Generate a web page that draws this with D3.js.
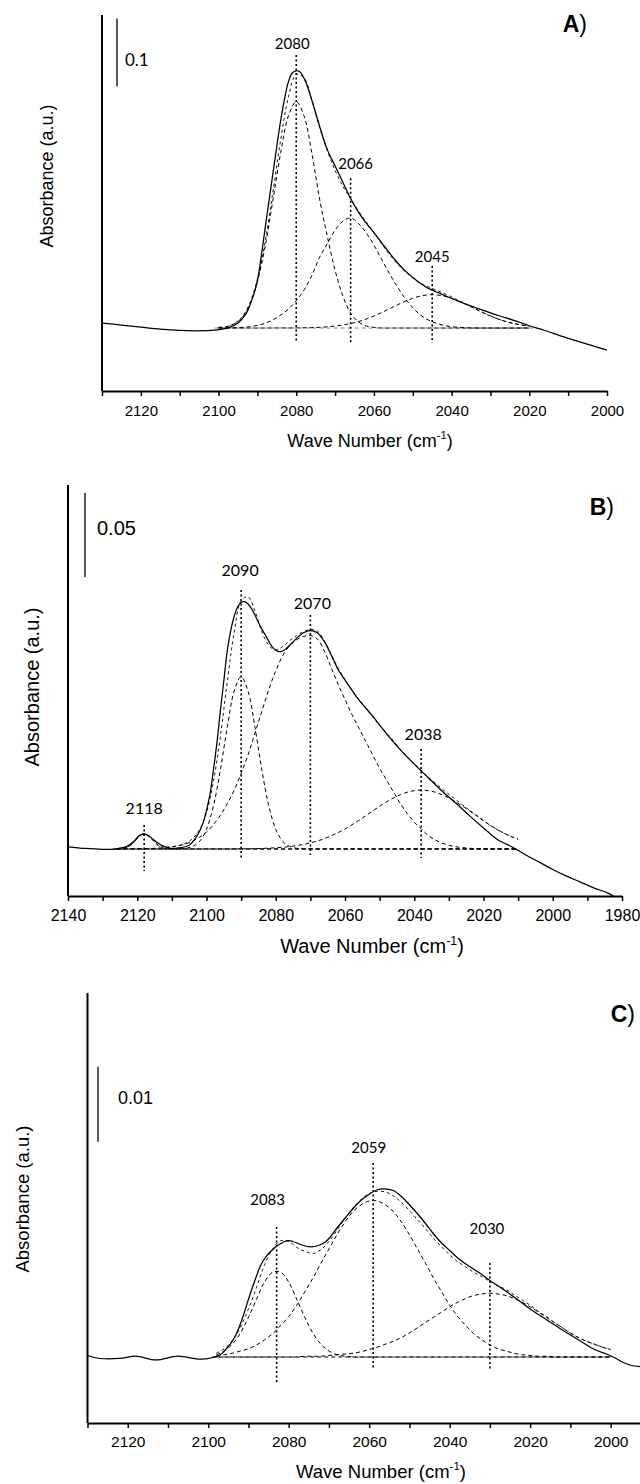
<!DOCTYPE html>
<html><head><meta charset="utf-8">
<script src="https://cdn.jsdelivr.net/npm/d3@7"></script>
<style>body{margin:0;background:#fff}svg{display:block}</style>
</head><body>
<svg id="c" width="640" height="1484"></svg>
<script>
// ================= DATA =================
// ---- Panel A ----
const ticksA = [2130,2120,2110,2100,2090,2080,2070,2060,2050,2040,2030,2020,2010,2000];
const tickLabelsA = [2120,2100,2080,2060,2040,2020,2000];
const spectrumA = [[2130,0.100],[2125,0.097],[2120,0.094],[2115,0.091],[2110,0.089],[2106,0.0885],[2102,0.089],[2099,0.091],[2097,0.094],[2095,0.100],[2093,0.113],[2092,0.125],[2091,0.141],[2090,0.162],[2089,0.198],[2088,0.240],[2087,0.280],[2086,0.320],[2085,0.360],[2084,0.398],[2083,0.430],[2082,0.455],[2081,0.468],[2080,0.471],[2079,0.469],[2078,0.460],[2077,0.446],[2076,0.428],[2074,0.390],[2072,0.355],[2070,0.331],[2068,0.307],[2066,0.283],[2064,0.263],[2062,0.247],[2060,0.233],[2058,0.218],[2056,0.203],[2054,0.189],[2052,0.177],[2050,0.167],[2048,0.158],[2046,0.151],[2044,0.146],[2042,0.141],[2040,0.136],[2036,0.127],[2032,0.119],[2028,0.111],[2024,0.104],[2020,0.096],[2016,0.089],[2012,0.081],[2008,0.074],[2004,0.067],[2000,0.060]];
const baselineA = 0.0926, baseRangeA = [2101, 2019];
const gridA = d3.range(2100, 2019, -2);   // 2100 ... 2020
const compA2080 = [0.001,0.002,0.006,0.015,0.034,0.068,0.120,0.188,0.258,0.312,0.333,0.312,0.258,0.190,0.135,0.085,0.047,0.022,0.009,0.003,0.001,0,0,0,0,0,0,0,0,0,0,0,0,0,0,0,0,0,0,0,0];
const compA2066 = [0,0,0.0004,0.001,0.002,0.004,0.007,0.012,0.019,0.028,0.040,0.056,0.077,0.104,0.124,0.144,0.157,0.162,0.154,0.140,0.122,0.101,0.080,0.061,0.044,0.030,0.019,0.012,0.007,0.004,0.002,0.001,0.0004,0,0,0,0,0,0,0,0];
const compA2045 = [0,0,0,0,0,0,0,0.0001,0.0001,0.0001,0.0002,0.0004,0.0006,0.0011,0.0018,0.0029,0.0045,0.0066,0.0095,0.0132,0.0177,0.0228,0.0283,0.034,0.0392,0.0438,0.047,0.0488,0.0488,0.047,0.0438,0.0392,0.034,0.0283,0.0228,0.0177,0.0132,0.0095,0.0066,0.0045,0.0029];
const peaksA = [2080, 2066, 2045];
const peakTopA = [0.494, 0.313, 0.184];
const peakBottomA = [0.071, 0.071, 0.071];

// ---- Panel B ----
const ticksB = [2140,2130,2120,2110,2100,2090,2080,2070,2060,2050,2040,2030,2020,2010,2000,1990,1980];
const tickLabelsB = [2140,2120,2100,2080,2060,2040,2020,2000,1980];
const spectrumB = [[2140,0.0293],[2135,0.0283],[2130,0.0278],[2126,0.0281],[2123,0.0295],[2121,0.0325],[2119.5,0.0358],[2118,0.037],[2116.5,0.0355],[2115,0.033],[2113,0.0302],[2111,0.0287],[2109,0.0284],[2107,0.0289],[2105,0.0302],[2103.5,0.0335],[2102,0.0385],[2101,0.0435],[2100,0.051],[2099,0.0605],[2098,0.075],[2097,0.091],[2096,0.110],[2095,0.128],[2094,0.146],[2093,0.158],[2092,0.1665],[2091,0.172],[2090,0.1748],[2089,0.1752],[2088,0.1738],[2087,0.171],[2086,0.1672],[2085,0.1628],[2084,0.1588],[2083,0.1553],[2082,0.1515],[2081,0.1483],[2080,0.1463],[2079,0.1455],[2078,0.1458],[2077,0.1472],[2076,0.1492],[2075,0.1512],[2074,0.1533],[2072,0.1567],[2070,0.158],[2068,0.1567],[2066,0.1515],[2064,0.1435],[2062,0.1348],[2060,0.1285],[2058,0.1225],[2056,0.1167],[2052,0.107],[2048,0.0965],[2044,0.087],[2040,0.0785],[2036,0.0705],[2032,0.0625],[2028,0.0553],[2024,0.0477],[2020,0.0405],[2016,0.0336],[2012,0.0295],[2008,0.0247],[2004,0.0203],[2000,0.0158],[1996,0.0118],[1992,0.0083],[1988,0.0047],[1984,0.0017],[1982.5,0]];
const baselineB = 0.028, baseRangeB = [2127, 2010];
const gridB = d3.range(2126, 2009, -2);   // 2126 ... 2010
const compB2118 = [0,0.0003,0.002,0.0062,0.009,0.0062,0.002,0.0003,0,0,0,0,0,0,0,0,0,0,0,0,0,0,0,0,0,0,0,0,0,0,0,0,0,0,0,0,0,0,0,0,0,0,0,0,0,0,0,0,0,0,0,0,0,0,0,0,0,0,0];
const compB2090 = [0,0,0,0,0,0,0,0,0,0.0001,0.0004,0.0015,0.0045,0.0117,0.0256,0.0469,0.0724,0.094,0.1025,0.094,0.0724,0.0469,0.0256,0.0117,0.0045,0.0015,0.0004,0.0001,0,0,0,0,0,0,0,0,0,0,0,0,0,0,0,0,0,0,0,0,0,0,0,0,0,0,0,0,0,0,0];
const compB2070 = [0,0,0.0001,0.0001,0.0002,0.0003,0.0005,0.0008,0.0013,0.002,0.003,0.0047,0.007,0.010,0.0145,0.020,0.027,0.035,0.045,0.056,0.069,0.082,0.095,0.106,0.115,0.121,0.1245,0.1265,0.127,0.125,0.118,0.108,0.098,0.089,0.080,0.072,0.064,0.056,0.048,0.041,0.034,0.027,0.021,0.016,0.012,0.008,0.0055,0.0035,0.0022,0.0013,0.0008,0.0004,0.0002,0.0001,0,0,0,0,0];
const compB2038 = [0,0,0,0,0,0,0,0,0,0,0,0,0,0,0,0,0,0,0.0001,0.0001,0.0002,0.0003,0.0005,0.0007,0.001,0.0014,0.002,0.0027,0.0036,0.0047,0.0061,0.0078,0.0097,0.0119,0.0144,0.017,0.0198,0.0226,0.0254,0.028,0.0304,0.0323,0.0338,0.0347,0.035,0.0347,0.0338,0.0323,0.0304,0.028,0.0254,0.0226,0.0198,0.0168,0.014,0.0115,0.0093,0.0074,0.0058];
const peaksB = [2118, 2090, 2070, 2038];
const peakTopB = [0.0423, 0.1821, 0.1673, 0.0875];
const peakBottomB = [0.0149, 0.0226, 0.0244, 0.0226];

// ---- Panel C ----
const ticksC = [2130,2120,2110,2100,2090,2080,2070,2060,2050,2040,2030,2020,2010,2000];
const tickLabelsC = [2120,2100,2080,2060,2040,2020,2000];
const spectrumC = [[2130,0.0090],[2127,0.0086],[2122,0.0086],[2118,0.0089],[2113,0.0084],[2107.5,0.0089],[2102,0.0085],[2099,0.0087],[2097,0.0091],[2095.5,0.0099],[2094,0.0109],[2093,0.0119],[2092,0.0132],[2091,0.0148],[2090,0.0165],[2089,0.0181],[2088,0.0196],[2087,0.0210],[2086,0.0219],[2085,0.0226],[2084,0.0231],[2083,0.0236],[2082,0.0239],[2081,0.0242],[2080,0.0243],[2079,0.0242],[2078,0.0240],[2077,0.0238],[2076,0.0236],[2075,0.0235],[2074,0.0235],[2073,0.0236],[2072,0.0238],[2071,0.0241],[2070,0.0246],[2068,0.0260],[2066,0.0273],[2064,0.0286],[2062,0.0297],[2060,0.0305],[2058,0.0311],[2057,0.0312],[2056,0.0312],[2054,0.0310],[2052,0.0302],[2050,0.0291],[2048,0.0279],[2046,0.0266],[2044,0.0252],[2042,0.0240],[2040,0.0230],[2038,0.0220],[2036,0.0212],[2034,0.0205],[2032,0.0198],[2030,0.0190],[2028,0.0183],[2024,0.0168],[2020,0.0152],[2016,0.0138],[2012,0.0124],[2008,0.0111],[2004,0.0098],[2001,0.0092],[1999,0.0087],[1997,0.0081],[1995,0.0077],[1992.7,0.0075]];
const baselineC = 0.0088, baseRangeC = [2099, 2000];
const gridC = d3.range(2098, 1999, -2);   // 2098 ... 2000
const compC2083 = [0.0003,0.0008,0.0017,0.0032,0.0053,0.0077,0.01,0.0113,0.0113,0.01,0.0077,0.0053,0.0032,0.0017,0.0008,0.0003,0.0001,0,0,0,0,0,0,0,0,0,0,0,0,0,0,0,0,0,0,0,0,0,0,0,0,0,0,0,0,0,0,0,0,0];
const compC2059 = [0.0002,0.0003,0.0005,0.0008,0.0011,0.0016,0.0023,0.0031,0.0042,0.0054,0.0069,0.0087,0.0105,0.0125,0.0144,0.0163,0.018,0.0194,0.0203,0.0208,0.0208,0.0203,0.0194,0.018,0.0163,0.0144,0.0125,0.0105,0.0087,0.0069,0.0054,0.0042,0.0031,0.0023,0.0016,0.0011,0.0008,0.0005,0.0003,0.0002,0.0001,0.0001,0,0,0,0,0,0,0,0];
const compC2030 = [0,0,0,0,0,0,0,0,0,0,0,0.0001,0.0001,0.0001,0.0002,0.0003,0.0004,0.0005,0.0007,0.001,0.0013,0.0017,0.0021,0.0026,0.0032,0.0039,0.0046,0.0053,0.006,0.0067,0.0073,0.0078,0.0082,0.0084,0.0085,0.0084,0.0082,0.0078,0.0073,0.0067,0.006,0.0053,0.0046,0.0039,0.0032,0.0026,0.0021,0.0017,0.0013,0.001];
const peaksC = [2083, 2059, 2030];
const peakTopC = [0.02613, 0.03467, 0.02133];
const peakBottomC = [0.00533, 0.00707, 0.00707];

// ================= LAYOUT =================
const svg = d3.select("#c");
const ARIAL = "'Liberation Sans', Arial, sans-serif";
const CAL = "Lato, 'Open Sans', sans-serif";

function drawPanel(p) {
  [p.c1, p.c2, p.c3, p.c4].filter(Boolean).forEach(c => {
    if (c.length !== p.grid.length) throw new Error("length mismatch " + p.tag + " " + c.length + " vs " + p.grid.length);
  });
  const g = svg.append("g");
  const x = d3.scaleLinear().domain(p.xDomain).range([p.left, p.right]);
  const y = d3.scaleLinear().domain([0, p.yMax]).range([p.bottom, p.top]);

  // y axis (line only)
  g.append("line").attr("x1", p.left).attr("x2", p.left).attr("y1", p.top).attr("y2", p.bottom)
    .attr("stroke", "#000").attr("stroke-width", 2);

  // x axis
  const ax = d3.axisBottom(x).tickValues(p.ticks)
    .tickFormat(d => p.tickLabels.includes(d) ? d : "").tickSize(5).tickSizeOuter(0);
  const axg = g.append("g").attr("transform", `translate(0,${p.bottom})`).call(ax);
  axg.select(".domain").attr("stroke-width", 2);
  axg.selectAll(".tick line").attr("stroke-width", 1.5);
  axg.selectAll(".tick text").attr("font-family", ARIAL).attr("font-size", p.tickFs)
    .attr("y", p.tickY).attr("fill", "#000");

  // x title
  const t = g.append("text").attr("x", p.titleX).attr("y", p.titleY).attr("text-anchor", "middle")
    .attr("font-family", ARIAL).attr("font-size", p.titleFs).attr("fill", "#000");
  t.append("tspan").text("Wave Number (cm");
  t.append("tspan").attr("dy", -p.titleFs * 0.42).attr("font-size", p.titleFs * 0.62).text("-1");
  t.append("tspan").attr("dy", p.titleFs * 0.42).text(")");

  // y title
  g.append("text").attr("transform", `translate(${p.ylabX},${p.ylabY}) rotate(-90)`)
    .attr("text-anchor", "middle").attr("font-family", ARIAL).attr("font-size", p.titleFs)
    .attr("fill", "#000").text("Absorbance (a.u.)");

  // scale bar
  g.append("line").attr("x1", p.barX).attr("x2", p.barX).attr("y1", y(p.barTop)).attr("y2", y(p.barTop - p.barValue))
    .attr("stroke", "#000").attr("stroke-width", 1.3);
  g.append("text").attr("x", p.barLabX).attr("y", p.barLabY).attr("font-family", p.barFont)
    .attr("font-size", p.barFs).attr("fill", "#000").text(p.barText);

  // panel tag
  const tg = g.append("text").attr("x", p.tagX).attr("y", p.tagY).attr("text-anchor", "end")
    .attr("font-family", ARIAL).attr("font-size", 23).attr("fill", "#000");
  tg.append("tspan").attr("font-weight", "bold").text(p.tag);
  tg.append("tspan").text(")");

  const line = d3.line().x(d => x(d[0])).y(d => y(d[1])).curve(d3.curveCatmullRom.alpha(0.5));

  // baseline
  g.append("path").attr("d", line([[p.baseRange[0], p.base], [p.baseRange[1], p.base]]))
    .attr("fill", "none").attr("stroke", p.baseColor).attr("stroke-width", 1.1).attr("stroke-dasharray", "4,3");

  // components
  const comps = [p.c1, p.c2, p.c3, p.c4].filter(Boolean);
  comps.forEach(c => {
    g.append("path").attr("d", line(p.grid.map((w, i) => [w, p.base + c[i]])))
      .attr("fill", "none").attr("stroke", "#000").attr("stroke-width", 1).attr("stroke-dasharray", "4,3");
  });
  // cumulative fit
  g.append("path").attr("d", line(p.grid.map((w, i) => [w, p.base + d3.sum(comps, c => c[i])])))
    .attr("fill", "none").attr("stroke", "#000").attr("stroke-width", 0.9).attr("stroke-dasharray", "3,3");

  // experimental spectrum
  g.append("path").attr("d", line(p.spectrum)).attr("fill", "none").attr("stroke", "#000").attr("stroke-width", 1.25);

  // peak markers
  p.peaks.forEach((pk, i) => {
    g.append("line").attr("x1", x(pk)).attr("x2", x(pk)).attr("y1", y(p.peakTop[i])).attr("y2", y(p.peakBottom[i]))
      .attr("stroke", "#000").attr("stroke-width", 1.6).attr("stroke-dasharray", "2,2.5");
    g.append("text").attr("x", x(pk) + p.labDx[i]).attr("y", p.labY[i]).attr("text-anchor", "middle")
      .attr("font-family", CAL).attr("font-size", p.peakFs).attr("fill", "#000").text(pk);
  });
}

drawPanel({
  tag: "A", spectrum: spectrumA, grid: gridA, c1: compA2080, c2: compA2066, c3: compA2045,
  base: baselineA, baseRange: baseRangeA, baseColor: "#8a8a8a",
  peaks: peaksA, peakTop: peakTopA, peakBottom: peakBottomA,
  ticks: ticksA, tickLabels: tickLabelsA,
  xDomain: [2130, 2000], left: 102, right: 607, top: 15, bottom: 391, yMax: 0.553,
  tickFs: 15, tickY: 14.6, titleX: 370, titleY: 447, titleFs: 18, ylabX: 53, ylabY: 176,
  barX: 117, barTop: 0.548, barValue: 0.1, barLabX: 125, barLabY: 66, barFont: CAL, barFs: 17, barText: "0.1",
  tagX: 587, tagY: 31.5,
  labDx: [-4, 5, 0], labY: [48.5, 168.5, 261.5], peakFs: 15
});

drawPanel({
  tag: "B", spectrum: spectrumB, grid: gridB, c1: compB2118, c2: compB2090, c3: compB2070, c4: compB2038,
  base: baselineB, baseRange: baseRangeB, baseColor: "#000",
  peaks: peaksB, peakTop: peakTopB, peakBottom: peakBottomB,
  ticks: ticksB, tickLabels: tickLabelsB,
  xDomain: [2140, 1980], left: 68, right: 622, top: 485, bottom: 896, yMax: 0.2446,
  tickFs: 16, tickY: 13.2, titleX: 372, titleY: 953, titleFs: 20, ylabX: 39, ylabY: 687,
  barX: 85, barTop: 0.2399, barValue: 0.05, barLabX: 97, barLabY: 535, barFont: ARIAL, barFs: 20, barText: "0.05",
  tagX: 614, tagY: 515,
  labDx: [0, -1, 2, 2], labY: [814, 576, 609, 740], peakFs: 16
});

drawPanel({
  tag: "C", spectrum: spectrumC, grid: gridC, c1: compC2083, c2: compC2059, c3: compC2030,
  base: baselineC, baseRange: baseRangeC, baseColor: "#000",
  peaks: peaksC, peakTop: peakTopC, peakBottom: peakBottomC,
  ticks: ticksC, tickLabels: tickLabelsC,
  xDomain: [2130, 1992.7], left: 87.5, right: 640, top: 993, bottom: 1423, yMax: 0.05733,
  tickFs: 15.5, tickY: 13.4, titleX: 381, titleY: 1478, titleFs: 18.5, ylabX: 29, ylabY: 1199,
  barX: 98, barTop: 0.0475, barValue: 0.01, barLabX: 118, barLabY: 1103.5, barFont: ARIAL, barFs: 18, barText: "0.01",
  tagX: 635, tagY: 1022,
  labDx: [-9, -4.5, -3], labY: [1205, 1153, 1234], peakFs: 15
});
</script>
</body></html>
